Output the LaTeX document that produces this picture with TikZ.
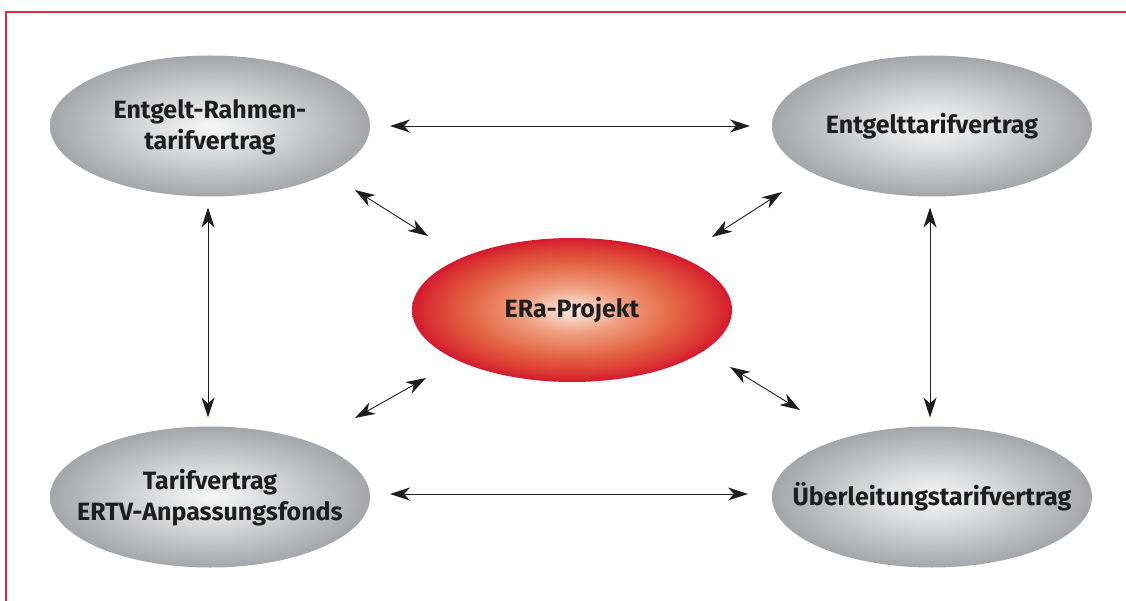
\documentclass[tikz,border=0pt]{standalone}
\usepackage{fontspec}
\setmainfont{Fira Sans}
\usetikzlibrary{arrows.meta,shapes.geometric}
\definecolor{frame}{RGB}{218,40,64}
\definecolor{txt}{RGB}{30,30,30}
\pgfdeclareradialshading{grayball}{\pgfpoint{0bp}{0bp}}{%
  rgb(0bp)=(0.965,0.965,0.965); rgb(8bp)=(0.87,0.875,0.88); rgb(25bp)=(0.64,0.655,0.665); rgb(50bp)=(0.64,0.655,0.665)}
\pgfdeclareradialshading{redball}{\pgfpoint{0bp}{0bp}}{%
  rgb(0bp)=(0.99,0.93,0.90); rgb(8bp)=(0.94,0.62,0.50); rgb(16bp)=(0.89,0.40,0.27); rgb(22bp)=(0.86,0.22,0.2); rgb(25bp)=(0.83,0.1,0.18); rgb(50bp)=(0.83,0.1,0.18)}
\newcommand{\lbl}[1]{\smash{\raisebox{-8pt}{\makebox[0pt]{\begin{tabular}{@{}c@{}}#1\end{tabular}}}}}
\tikzset{
  grayell/.style={ellipse, minimum width=320pt, minimum height=141pt, inner sep=0pt, outer sep=0pt,
    shading=grayball, text=txt, font=\fontsize{25}{31}\selectfont\bfseries},
  redell/.style={grayell, shading=redball, minimum height=144pt},
  link/.style={line width=0.9pt, color=txt,
    {Stealth[length=20pt,width=13pt,inset=6pt]}-{Stealth[length=20pt,width=13pt,inset=6pt]}},
}
\begin{document}
\begin{tikzpicture}[x=1pt,y=-1pt]
\useasboundingbox (0,0) rectangle (1126,601);
\draw[frame, line width=1.5pt] (6,601) -- (6,12) -- (1126,12);
\node[grayell] (tl) at (210,126) {\lbl{Entgelt-Rahmen-\\tarifvertrag}};
\node[grayell] (tr) at (932,126) {\lbl{Entgelttarifvertrag}};
\node[redell] (c) at (572,310) {\lbl{ERa-Projekt}};
\node[grayell] (bl) at (210,497) {\lbl{Tarifvertrag\\ERTV-Anpassungsfonds}};
\node[grayell] (br) at (932,497) {\lbl{Überleitungstarifvertrag}};
\coordinate (a1) at (355,190); \coordinate (a2) at (428,236);
\coordinate (b1) at (782,192); \coordinate (b2) at (712,237);
\coordinate (c1) at (355,418); \coordinate (c2) at (426,378);
\coordinate (d1) at (800,410); \coordinate (d2) at (730,367);
\draw[link, shorten <=20pt, shorten >=22pt] (tl.east) -- (tr.west);
\draw[link, shorten <=20pt, shorten >=24pt] (bl.east |- 0,494) -- (br.west |- 0,494);
\draw[link, shorten <=11pt, shorten >=9pt] ([xshift=-2pt]tl.south) -- ([xshift=-2pt]bl.north);
\draw[link, shorten <=11pt, shorten >=9pt] ([xshift=-2pt]tr.south) -- ([xshift=-2pt]br.north);
\draw[link] (a1) -- (a2);
\draw[link] (b1) -- (b2);
\draw[link] (c1) -- (c2);
\draw[link] (d1) -- (d2);
\end{tikzpicture}
\end{document}
